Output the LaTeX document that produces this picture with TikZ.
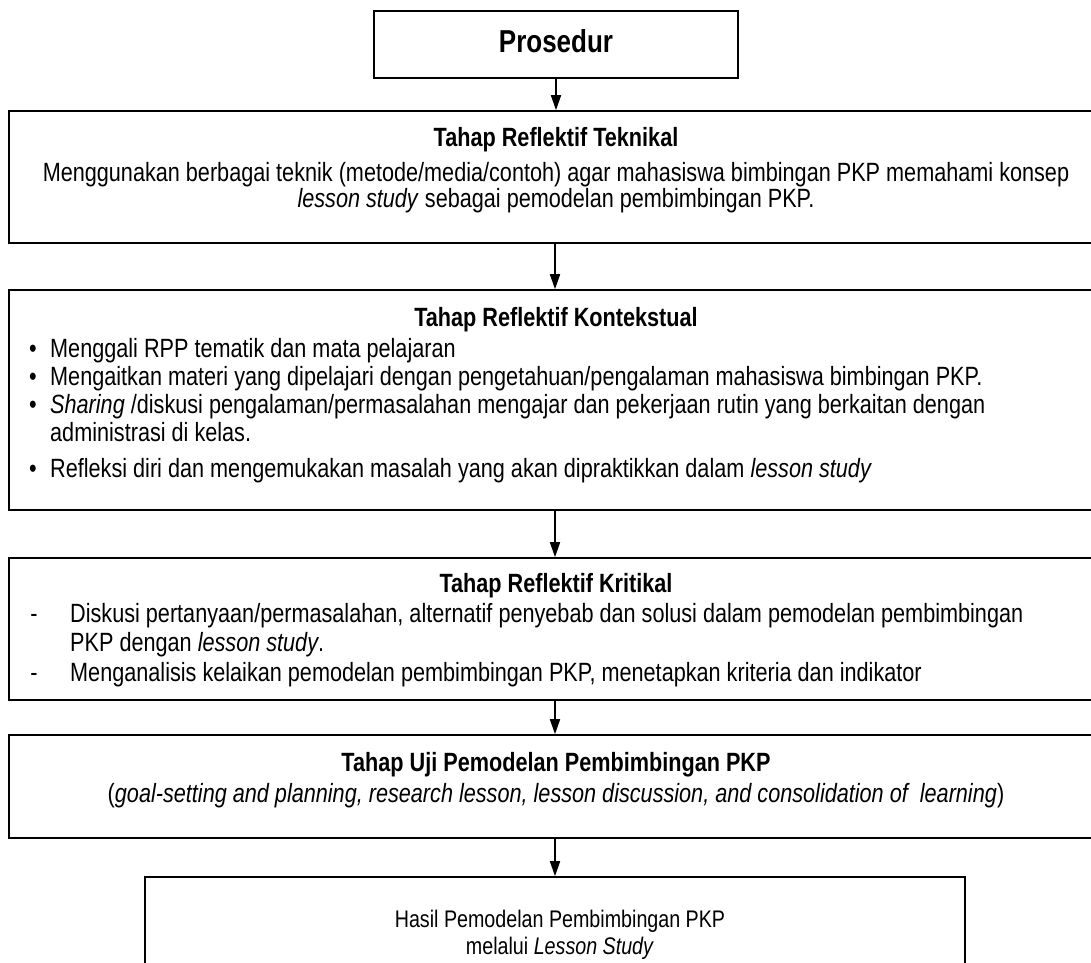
\documentclass[tikz,border=0pt]{standalone}
\usepackage{fontspec}
\setmainfont{Liberation Sans}[FakeStretch=0.82]
\usetikzlibrary{arrows.meta}
\begin{document}
\begin{tikzpicture}[x=1pt,y=-1pt,
  box/.style={draw, line width=1.6pt, rectangle, inner sep=0pt},
  arr/.style={line width=1.6pt, -{Triangle[width=10pt,length=15pt]}},
  body/.style={font=\fontsize{26.4}{28}\selectfont, inner sep=0pt},
  small/.style={font=\fontsize{24}{26}\selectfont, inner sep=0pt},
  ttl/.style={font=\fontsize{26.4}{28}\selectfont\bfseries, inner sep=0pt},
  big/.style={font=\fontsize{31.7}{34}\selectfont\bfseries, inner sep=0pt},
]
\useasboundingbox (0,0) rectangle (1091,962);
\clip (0,0) rectangle (1091,962);
\fill[white] (0,0) rectangle (1091,962);

% boxes
\node[box, minimum width=364pt, minimum height=67pt] (p) at (556,44.5) {};
\node[box, minimum width=1092pt, minimum height=132pt] (t) at (555,177) {};
\node[box, minimum width=1092pt, minimum height=220pt] (k) at (555,400) {};
\node[box, minimum width=1092pt, minimum height=142pt] (c) at (555,629) {};
\node[box, minimum width=1092pt, minimum height=103pt] (u) at (555,786.5) {};
\node[box, minimum width=820pt, minimum height=133pt] (h) at (555,943.5) {};

% arrows
\draw[arr] (p.south) -- (p.south |- t.north);
\draw[arr] (t.south) -- (k.north);
\draw[arr] (k.south) -- (c.north);
\draw[arr] (c.south) -- (u.north);
\draw[arr] (u.south) -- (h.north);

% Prosedur
\node[big, anchor=base] (pt) at (556,52) {Prosedur};

% Teknikal
\node[ttl, anchor=base] (t0) at (556,146) {Tahap Reflektif Teknikal};
\node[body, anchor=base] (t1) at (556,181) {Menggunakan berbagai teknik (metode/media/contoh) agar mahasiswa bimbingan PKP memahami konsep};
\node[body, anchor=base] (t2) at (556,207) {\textit{lesson study} sebagai pemodelan pembimbingan PKP.};

% Kontekstual
\node[ttl, anchor=base] (k0) at (556,326) {Tahap Reflektif Kontekstual};
\node[body, anchor=base] (kb1) at (33,357) {•};
\node[body, anchor=base west] (k1) at (50,357) {Menggali RPP tematik dan mata pelajaran};
\node[body, anchor=base] (kb2) at (33,385) {•};
\node[body, anchor=base west] (k2) at (50,385) {Mengaitkan materi yang dipelajari dengan pengetahuan/pengalaman mahasiswa bimbingan PKP.};
\node[body, anchor=base] (kb3) at (33,413) {•};
\node[body, anchor=base west] (k3) at (50,413) {\textit{Sharing} /diskusi pengalaman/permasalahan mengajar dan pekerjaan rutin yang berkaitan dengan};
\node[body, anchor=base west] (k3b) at (50,441) {administrasi di kelas.};
\node[body, anchor=base] (kb4) at (33,477) {•};
\node[body, anchor=base west] (k4) at (50,477) {Refleksi diri dan mengemukakan masalah yang akan dipraktikkan dalam \textit{lesson study}};

% Kritikal
\node[ttl, anchor=base] (c0) at (556,592) {Tahap Reflektif Kritikal};
\node[body, anchor=base] (cd1) at (34,622) {-};
\node[body, anchor=base west] (c1) at (70,622) {Diskusi pertanyaan/permasalahan, alternatif penyebab dan solusi dalam pemodelan pembimbingan};
\node[body, anchor=base west] (c1b) at (70,651) {PKP dengan \textit{lesson study}.};
\node[body, anchor=base] (cd2) at (34,681) {-};
\node[body, anchor=base west] (c2) at (70,681) {Menganalisis kelaikan pemodelan pembimbingan PKP, menetapkan kriteria dan indikator};

% Uji
\node[ttl, anchor=base] (u0) at (556,771) {Tahap Uji Pemodelan Pembimbingan PKP};
\node[body, anchor=base] (u1) at (556,802) {(\textit{goal-setting and planning, research lesson, lesson discussion, and consolidation of\ \ learning})};

% Hasil
\node[small, anchor=base] (h1) at (560,927) {Hasil Pemodelan Pembimbingan PKP};
\node[small, anchor=base] (h2) at (560,954) {melalui \textit{Lesson Study}};
\end{tikzpicture}
\end{document}
